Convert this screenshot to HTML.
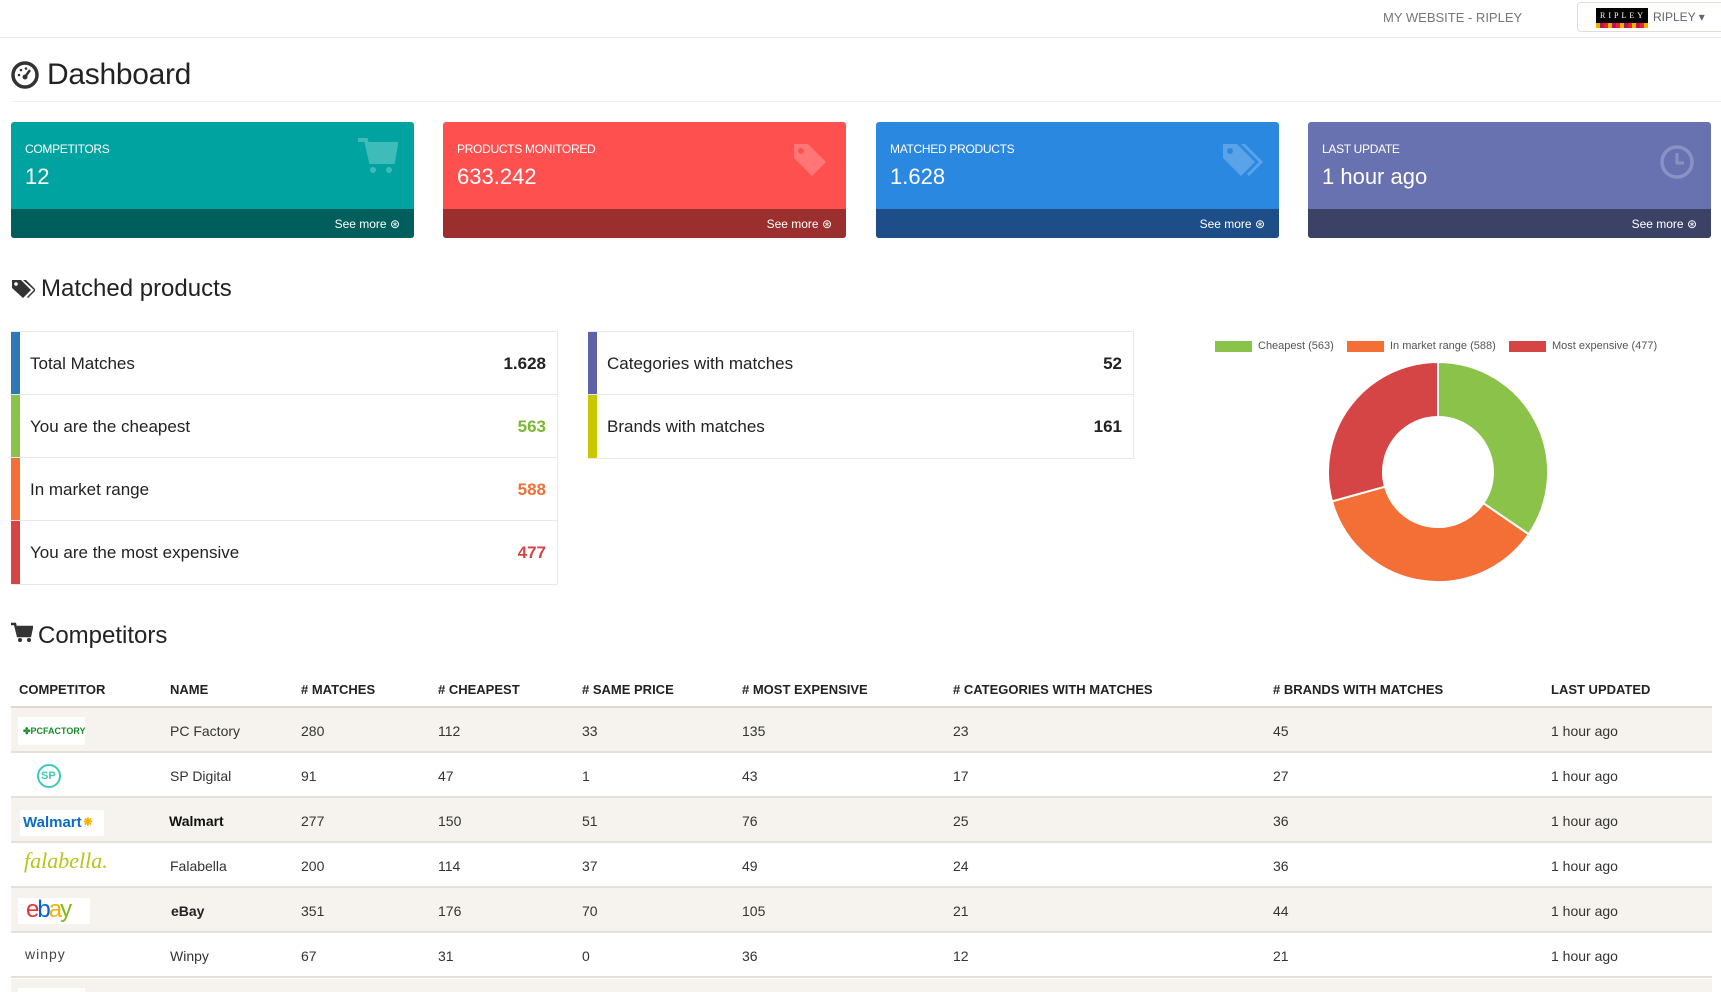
<!DOCTYPE html>
<html style="width:1721px;height:992px;overflow:hidden"><head><meta charset="utf-8"><style>
*{box-sizing:border-box;margin:0;padding:0}
body{width:1721px;height:992px;overflow:hidden;background:#fff;font-family:"Liberation Sans",sans-serif;color:#333;position:relative}
.a{position:absolute}
.card{position:absolute;top:122px;width:403px;height:116px;border-radius:3px;overflow:hidden;color:#fff}
.card .lb{position:absolute;left:14px;top:20px;font-size:12px;letter-spacing:-0.3px}
.card .v{position:absolute;left:14px;top:42px;font-size:22px;font-weight:300}
.card .ft{position:absolute;left:0;right:0;bottom:0;height:29px;font-size:12px;text-align:right;padding:8px 14px 0 0}
.st{position:absolute;border:1px solid #e8e8e8;background:#fff}
.st .r{position:relative;height:63px;border-bottom:1px solid #e8e8e8;font-size:17px;line-height:63px;padding-left:18px;color:#222}
.st .r:last-child{border-bottom:none}
.st .r b{position:absolute;right:11px;top:0}
.st .r i{position:absolute;left:-1px;top:0;bottom:0;width:9px}
.th{position:absolute;top:682px;font-size:13px;font-weight:bold;color:#222}
.row{position:absolute;left:11px;width:1701px;height:45px;border-bottom:2px solid #e4e0da}
.row.s{background:#f6f3ee}
.c{position:absolute;font-size:14px;color:#333}
</style></head><body>
<div class="a" style="left:0;top:0;width:1721px;height:38px;border-bottom:1px solid #e5e5e5"></div>
<div class="a" style="left:1383px;top:10px;font-size:13px;color:#777">MY WEBSITE - RIPLEY</div>
<div class="a" style="left:1577px;top:2px;width:150px;height:30px;border:1px solid #e0dcd6;border-radius:4px"></div>
<div class="a" style="left:1596px;top:8px;width:52px;height:20px;background:#000;color:#fff;font-size:8px;letter-spacing:3px;padding:3px 0 0 4px;font-family:'Liberation Serif',serif">RIPLEY</div>
<div class="a" style="left:1596px;top:23px;width:52px;height:5px;background:repeating-linear-gradient(90deg,#e5b400 0 4px,#b0185a 4px 8px,#e23 8px 12px)"></div>
<div class="a" style="left:1653px;top:10px;font-size:12px;color:#666">RIPLEY ▾</div>

<svg class="a" style="left:11px;top:61px" width="28" height="28"><circle cx="14" cy="14" r="12" fill="none" stroke="#333" stroke-width="3.5"/><circle cx="14" cy="16" r="2.5" fill="#333"/><path d="M14 16 L19 9" stroke="#333" stroke-width="2.5"/><circle cx="8" cy="14" r="1.3" fill="#333"/><circle cx="10" cy="9" r="1.3" fill="#333"/><circle cx="15" cy="7.5" r="1.3" fill="#333"/></svg>
<div class="a" style="left:47px;top:58px;font-size:30px;color:#222;letter-spacing:-0.3px">Dashboard</div>
<div class="a" style="left:11px;top:101px;width:1710px;height:1px;background:#f2eeea"></div>

<div class="card" style="left:11px;background:#00a3a0"><div class="lb">COMPETITORS</div><div class="v">12</div>
<svg class="a" style="right:16px;top:14px" width="42" height="42"><path d="M2 4h8l5 22h22l3-18H12" fill="none" stroke="#3fbcb9" stroke-width="4"/><path d="M12 10h27l-3 16H15z" fill="#3fbcb9"/><circle cx="17" cy="34" r="3" fill="#3fbcb9"/><circle cx="33" cy="34" r="3" fill="#3fbcb9"/></svg>
<div class="ft" style="background:#005f5c">See more ⊛</div></div>
<div class="card" style="left:443px;background:#ff5050"><div class="lb">PRODUCTS MONITORED</div><div class="v">633.242</div>
<svg class="a" style="right:18px;top:20px" width="36" height="36"><path d="M2 2h14l18 18-14 14L2 16z" fill="#ff7676"/><circle cx="9" cy="9" r="3" fill="#ff5050"/></svg>
<div class="ft" style="background:#9a2f2e">See more ⊛</div></div>
<div class="card" style="left:876px;background:#2b88e0"><div class="lb">MATCHED PRODUCTS</div><div class="v">1.628</div>
<svg class="a" style="right:14px;top:20px" width="44" height="36"><path d="M2 2h14l18 18-14 14L2 16z" fill="#5ba3e8"/><path d="M20 2h4l18 18-14 14-2-2 12-12z" fill="#5ba3e8"/><circle cx="9" cy="9" r="3" fill="#2b88e0"/></svg>
<div class="ft" style="background:#1d4e87">See more ⊛</div></div>
<div class="card" style="left:1308px;background:#6872b0"><div class="lb">LAST UPDATE</div><div class="v">1 hour ago</div>
<svg class="a" style="right:16px;top:22px" width="36" height="36"><circle cx="18" cy="18" r="15" fill="none" stroke="#8a92c4" stroke-width="3.5"/><path d="M18 9v10h7" fill="none" stroke="#8a92c4" stroke-width="3"/></svg>
<div class="ft" style="background:#3c4266">See more ⊛</div></div>

<svg class="a" style="left:11px;top:278px" width="24" height="22"><path d="M1 2h9l10 10-8 8L1 10z" fill="#333"/><path d="M12 2h3l10 10-8 8-1-1 7-7z" fill="#333"/><circle cx="5" cy="6" r="1.8" fill="#fff"/></svg>
<div class="a" style="left:41px;top:275px;font-size:24px;color:#222">Matched products</div>

<div class="st" style="left:11px;top:331px;width:547px">
<div class="r"><i style="background:#2e78b5"></i>Total Matches<b style="color:#222">1.628</b></div>
<div class="r"><i style="background:#8bc34a"></i>You are the cheapest<b style="color:#7cb82f">563</b></div>
<div class="r"><i style="background:#f36f35"></i>In market range<b style="color:#f36f35">588</b></div>
<div class="r"><i style="background:#d64545"></i>You are the most expensive<b style="color:#d64545">477</b></div>
</div>
<div class="st" style="left:588px;top:331px;width:546px">
<div class="r"><i style="background:#5c63a8"></i>Categories with matches<b style="color:#222">52</b></div>
<div class="r"><i style="background:#c9c800"></i>Brands with matches<b style="color:#222">161</b></div>
</div>

<div class="a" style="left:1215px;top:341px;width:37px;height:11px;background:#8bc34a"></div>
<div class="a" style="left:1258px;top:340px;font-size:11px;color:#555">Cheapest (563)</div>
<div class="a" style="left:1347px;top:341px;width:37px;height:11px;background:#f36f35"></div>
<div class="a" style="left:1390px;top:340px;font-size:11px;color:#555">In market range (588)</div>
<div class="a" style="left:1509px;top:341px;width:37px;height:11px;background:#d64545"></div>
<div class="a" style="left:1552px;top:340px;font-size:11px;color:#555">Most expensive (477)</div>
<svg class="a" style="left:0;top:0" width="1721" height="992">
<g stroke="#fff" stroke-width="2">
<path d="M1438 362 A110 110 0 0 1 1528.7 534.3 L1483.3 503.2 A55 55 0 0 0 1438 417Z" fill="#8bc34a"/>
<path d="M1528.7 534.3 A110 110 0 0 1 1332 501.4 L1385 486.7 A55 55 0 0 0 1483.3 503.2Z" fill="#f36f35"/>
<path d="M1332 501.4 A110 110 0 0 1 1438 362 L1438 417 A55 55 0 0 0 1385 486.7Z" fill="#d64545"/>
</g></svg>

<svg class="a" style="left:11px;top:622px" width="22" height="22"><path d="M0 2h4l3 12h12l2-9H6" fill="none" stroke="#333" stroke-width="2.5"/><path d="M6 5h15l-2 9H8z" fill="#333"/><circle cx="9" cy="18" r="2" fill="#333"/><circle cx="18" cy="18" r="2" fill="#333"/></svg>
<div class="a" style="left:38px;top:622px;font-size:24px;color:#222">Competitors</div>

<div class="th" style="left:19px">COMPETITOR</div><div class="th" style="left:170px">NAME</div><div class="th" style="left:301px"># MATCHES</div><div class="th" style="left:438px"># CHEAPEST</div><div class="th" style="left:582px"># SAME PRICE</div><div class="th" style="left:742px"># MOST EXPENSIVE</div><div class="th" style="left:953px"># CATEGORIES WITH MATCHES</div><div class="th" style="left:1273px"># BRANDS WITH MATCHES</div><div class="th" style="left:1551px">LAST UPDATED</div>
<div class="a" style="left:11px;top:706px;width:1701px;height:2px;background:#ddd8d0"></div>

<div class="row s" style="top:708px"></div>
<div class="row" style="top:753px"></div>
<div class="row s" style="top:798px"></div>
<div class="row" style="top:843px"></div>
<div class="row s" style="top:888px"></div>
<div class="row" style="top:933px"></div>
<div class="row s" style="top:979px;height:13px;border:none"></div>

<div class="a" style="left:18px;top:717px;width:67px;height:28px;background:#fff;font-size:9px;font-weight:bold;color:#1a8a2a;padding:9px 0 0 5px">✤PCFACTORY</div>
<div class="a" style="left:37px;top:764px;width:24px;height:24px;border:2px solid #3cc9b8;border-radius:50%;font-size:11px;font-weight:bold;color:#3cc9b8;padding:4px 0 0 2px">SP</div>
<div class="a" style="left:20px;top:810px;width:84px;height:26px;background:#fff;font-size:15px;font-weight:bold;color:#0a6cc2;padding:3px 0 0 3px">Walmart<span style="color:#f5b400">⁕</span></div>
<div class="a" style="left:24px;top:848px;font-size:22px;font-style:italic;color:#b9c41a;font-family:'Liberation Serif',serif">falabella.</div>
<div class="a" style="left:18px;top:898px;width:72px;height:26px;background:#fff;font-size:24px;letter-spacing:-2px;line-height:24px;padding-left:8px"><span style="color:#e53238">e</span><span style="color:#0064d2">b</span><span style="color:#f5af02">a</span><span style="color:#86b817">y</span></div>
<div class="a" style="left:25px;top:946px;font-size:14px;color:#444;letter-spacing:1px">winpy</div>

<div class="c" style="left:170px;top:723px">PC Factory</div><div class="c" style="left:301px;top:723px">280</div><div class="c" style="left:438px;top:723px">112</div><div class="c" style="left:582px;top:723px">33</div><div class="c" style="left:742px;top:723px">135</div><div class="c" style="left:953px;top:723px">23</div><div class="c" style="left:1273px;top:723px">45</div><div class="c" style="left:1551px;top:723px">1 hour ago</div>
<div class="c" style="left:170px;top:768px">SP Digital</div><div class="c" style="left:301px;top:768px">91</div><div class="c" style="left:438px;top:768px">47</div><div class="c" style="left:582px;top:768px">1</div><div class="c" style="left:742px;top:768px">43</div><div class="c" style="left:953px;top:768px">17</div><div class="c" style="left:1273px;top:768px">27</div><div class="c" style="left:1551px;top:768px">1 hour ago</div>
<div class="c" style="left:169px;top:813px;font-weight:bold;color:#111">Walmart</div><div class="c" style="left:301px;top:813px">277</div><div class="c" style="left:438px;top:813px">150</div><div class="c" style="left:582px;top:813px">51</div><div class="c" style="left:742px;top:813px">76</div><div class="c" style="left:953px;top:813px">25</div><div class="c" style="left:1273px;top:813px">36</div><div class="c" style="left:1551px;top:813px">1 hour ago</div>
<div class="c" style="left:170px;top:858px">Falabella</div><div class="c" style="left:301px;top:858px">200</div><div class="c" style="left:438px;top:858px">114</div><div class="c" style="left:582px;top:858px">37</div><div class="c" style="left:742px;top:858px">49</div><div class="c" style="left:953px;top:858px">24</div><div class="c" style="left:1273px;top:858px">36</div><div class="c" style="left:1551px;top:858px">1 hour ago</div>
<div class="c" style="left:171px;top:903px;font-weight:bold;color:#222">eBay</div><div class="c" style="left:301px;top:903px">351</div><div class="c" style="left:438px;top:903px">176</div><div class="c" style="left:582px;top:903px">70</div><div class="c" style="left:742px;top:903px">105</div><div class="c" style="left:953px;top:903px">21</div><div class="c" style="left:1273px;top:903px">44</div><div class="c" style="left:1551px;top:903px">1 hour ago</div>
<div class="c" style="left:170px;top:948px">Winpy</div><div class="c" style="left:301px;top:948px">67</div><div class="c" style="left:438px;top:948px">31</div><div class="c" style="left:582px;top:948px">0</div><div class="c" style="left:742px;top:948px">36</div><div class="c" style="left:953px;top:948px">12</div><div class="c" style="left:1273px;top:948px">21</div><div class="c" style="left:1551px;top:948px">1 hour ago</div>
<div class="a" style="left:18px;top:988px;width:67px;height:4px;background:#fff"></div>
</body></html>
